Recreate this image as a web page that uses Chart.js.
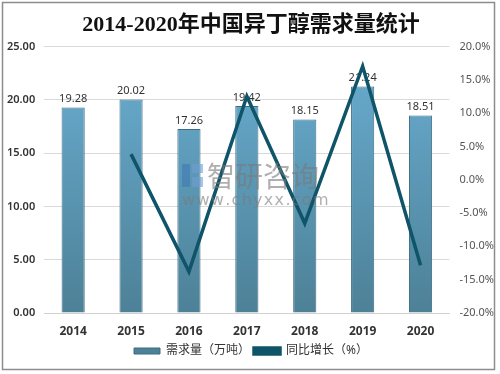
<!DOCTYPE html>
<html>
<head>
<meta charset="utf-8">
<script src="https://cdn.jsdelivr.net/npm/chart.js@4/dist/chart.umd.min.js"></script>
<style>
html,body{margin:0;padding:0;background:#fff;}
#wrap{width:500px;height:374px;position:relative;}
</style>
</head>
<body>
<div id="wrap"><canvas id="c" width="500" height="374"></canvas></div>
<script>
const categories = ['2014','2015','2016','2017','2018','2019','2020'];
const demand = [19.28, 20.02, 17.26, 19.42, 18.15, 21.24, 18.51];
const growth = [null, 3.84, -13.79, 12.51, -6.54, 17.02, -12.85];
const demandLabel = '需求量（万吨）';
const growthLabel = '同比增长（%）';
const titleText = '2014-2020年中国异丁醇需求量统计';

const sans = '"Noto Sans", "Noto Sans CJK SC", sans-serif';

function barGradient(ctx){
  const ch = ctx.chart; const a = ch.chartArea;
  if(!a) return '#5d9ab8';
  const g = ch.ctx.createLinearGradient(0, a.top, 0, a.bottom);
  g.addColorStop(0, '#6aaed2');
  g.addColorStop(1, '#4d8197');
  return g;
}

const borderPlugin = {
  id:'frame',
  afterDraw(chart){
    const c = chart.ctx;
    c.save();
    c.strokeStyle = '#8c8c8c';
    c.lineWidth = 1.5;
    c.strokeRect(2.5, 2.5, 492, 367);
    c.restore();
  }
};

const labelPlugin = {
  id:'barLabels',
  afterDatasetDraw(chart, args){
    if(args.index !== 0) return;
    const meta = chart.getDatasetMeta(0);
    const c = chart.ctx;
    c.save();
    c.font = '11px ' + sans;
    c.fillStyle = '#333';
    c.textAlign = 'center';
    c.textBaseline = 'bottom';
    meta.data.forEach((el, i) => {
      c.fillText(demand[i].toFixed(2), el.x, el.y - 3);
    });
    c.restore();
  }
};

const watermarkPlugin = {
  id:'watermark',
  afterDraw(chart){
    const c = chart.ctx;
    c.save();
    c.globalAlpha = 0.6;
    c.fillStyle = '#3f78b4';
    c.fillRect(182, 164, 8, 23);
    c.fillStyle = '#6f9fd0';
    c.fillRect(192, 164, 11, 9);
    c.fillRect(192, 177, 11, 10);
    c.fillStyle = '#7a7a7a';
    c.font = '28px "Noto Sans CJK SC", sans-serif';
    c.textBaseline = 'middle';
    c.textAlign = 'left';
    c.fillText('智研咨询', 207, 176);
    c.font = '16px "DejaVu Sans", sans-serif';
    const s = 'www.chyxx.com';
    let x = 182;
    for(const ch of s){ c.fillText(ch, x, 201); x += c.measureText(ch).width + 1.3; }
    c.restore();
  }
};

new Chart(document.getElementById('c'), {
  data: {
    labels: categories,
    datasets: [
      {
        type:'bar',
        label: demandLabel,
        data: demand,
        yAxisID:'y',
        order: 1,
        backgroundColor: barGradient,
        borderColor: '#3d6d84',
        borderWidth: 1,
        barPercentage: 0.4,
        categoryPercentage: 1.0
      },
      {
        type:'line',
        label: growthLabel,
        data: growth,
        yAxisID:'y1',
        order: 0,
        borderColor: '#0f5469',
        backgroundColor: '#0f5469',
        borderWidth: 3.5,
        pointRadius: 0,
        tension: 0,
        spanGaps: false
      }
    ]
  },
  options: {
    responsive:false,
    animation:false,
    devicePixelRatio:1,
    layout:{padding:{left:-2, right:-4, top:0, bottom:7}},
    plugins:{
      title:{
        display:true,
        text:titleText,
        color:'#111',
        font:{family:'"Liberation Serif", "Noto Sans CJK SC", serif', size:22, weight:'bold'},
        padding:{top:12, bottom:8}
      },
      legend:{
        display:true,
        position:'bottom',
        labels:{
          color:'#333',
          font:{family:sans, size:12},
          boxWidth:26,
          boxHeight:6,
          padding:4,
          sort:(a,b)=>a.datasetIndex-b.datasetIndex
        }
      },
      tooltip:{enabled:false}
    },
    scales:{
      x:{
        grid:{display:false, drawTicks:false},
        border:{display:true, color:'#d0d0d0'},
        ticks:{color:'#333', font:{family:sans, size:12, weight:'bold'}, padding:11},
        afterFit(scale){ scale.height = 28; }
      },
      y:{
        position:'left',
        min:0, max:25,
        grid:{color:'#d9d9d9', drawTicks:false},
        border:{display:false},
        ticks:{stepSize:5, color:'#333', padding:9, font:{family:sans, size:11, weight:'600'},
          callback:v=>Number(v).toFixed(2)}
      },
      y1:{
        position:'right',
        min:-20, max:20,
        grid:{display:false, drawTicks:false},
        border:{display:false},
        ticks:{stepSize:5, color:'#555', padding:10, font:{family:sans, size:11},
          callback:v=>Number(v).toFixed(1)+'%'}
      }
    }
  },
  plugins:[labelPlugin, watermarkPlugin, borderPlugin]
});
</script>
</body>
</html>
